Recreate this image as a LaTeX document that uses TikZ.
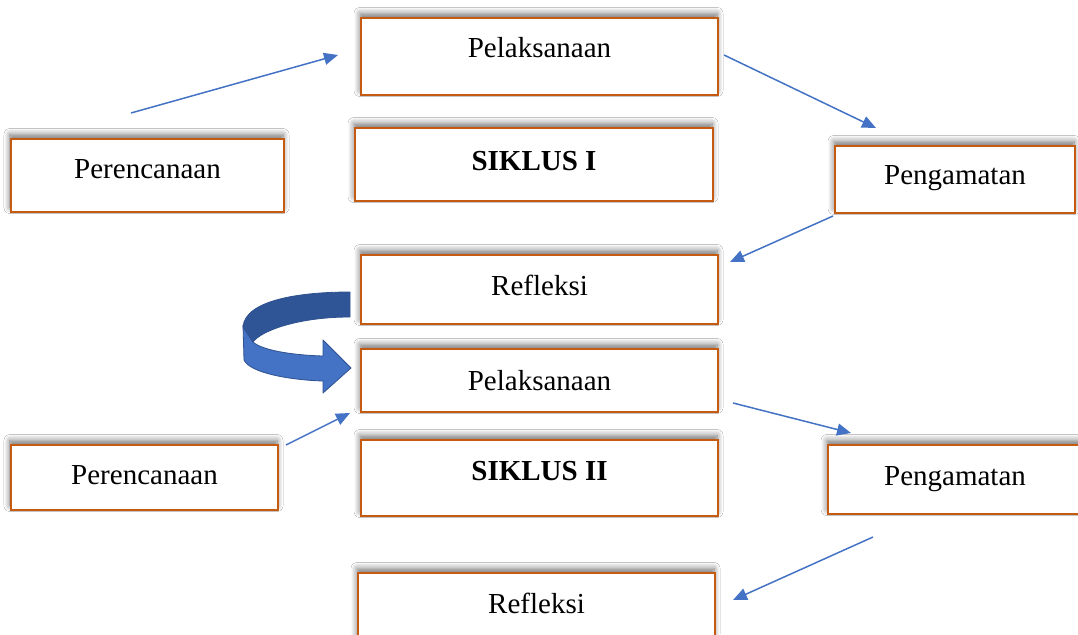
\documentclass[tikz,border=0pt]{standalone}
\usepackage{fontspec}
\setmainfont{Liberation Serif}
\usetikzlibrary{arrows.meta,shadows.blur}
\definecolor{boxorange}{HTML}{C55A11}
\definecolor{arrblue}{HTML}{4472C4}
\definecolor{darkblue}{HTML}{2F5597}
\definecolor{edgeblue}{HTML}{2F528F}
\tikzset{
  stagebox/.style={draw=boxorange, line width=2.6pt, fill=white, rectangle, inner sep=0pt,
    blur shadow={shadow xshift=-1pt, shadow yshift=4.5pt, shadow blur radius=6pt, shadow blur steps=8, shadow opacity=55}},
  lbl/.style={anchor=base, font=\fontsize{29}{33}\selectfont, inner sep=0pt},
  blbl/.style={lbl, font=\fontsize{29}{33}\selectfont\bfseries},
  flow/.style={draw=arrblue, line width=1.5pt, -{Triangle[length=14pt,width=12pt]}}
}
\begin{document}
\begin{tikzpicture}[x=1pt,y=-1pt]
\useasboundingbox (0,0) rectangle (1078,634);
\fill[white] (0,0) rectangle (1078,634);
% boxes
\node[stagebox, minimum width=357pt, minimum height=77pt] (p1) at (539.5,56.5) {};
\node[stagebox, minimum width=358pt, minimum height=73pt] (s1) at (534,164.5) {};
\node[stagebox, minimum width=273pt, minimum height=73pt] (r1) at (147.5,175.5) {};
\node[stagebox, minimum width=240pt, minimum height=67pt] (g1) at (955,179.5) {};
\node[stagebox, minimum width=357pt, minimum height=69pt] (f1) at (539.5,289.5) {};
\node[stagebox, minimum width=357pt, minimum height=63pt] (p2) at (539.5,380.5) {};
\node[stagebox, minimum width=357pt, minimum height=76pt] (s2) at (539.5,478) {};
\node[stagebox, minimum width=267pt, minimum height=65pt] (r2) at (144.5,477.5) {};
\node[stagebox, minimum width=262pt, minimum height=69pt] (g2) at (959,479.5) {};
\node[stagebox, minimum width=357pt, minimum height=77pt] (f2) at (536.5,611.5) {};
% labels
\node[lbl] (p1t) at (539.5,57) {Pelaksanaan};
\node[blbl] (s1t) at (534,170) {SIKLUS I};
\node[lbl] (r1t) at (147.5,178) {Perencanaan};
\node[lbl] (g1t) at (955,184) {Pengamatan};
\node[lbl] (f1t) at (539.5,295) {Refleksi};
\node[lbl] (p2t) at (539.5,390) {Pelaksanaan};
\node[blbl] (s2t) at (539.5,480) {SIKLUS II};
\node[lbl] (r2t) at (144.5,484) {Perencanaan};
\node[lbl] (g2t) at (955,485) {Pengamatan};
\node[lbl] (f2t) at (536.5,613) {Refleksi};
% connector end points
\coordinate (a1s) at (131,113);
\coordinate (a1e) at (338,55);
\coordinate (a2s) at (724,55);
\coordinate (a2e) at (876,128);
\coordinate (a3s) at (833,216);
\coordinate (a3e) at (730,262);
\coordinate (a4s) at (286,445);
\coordinate (a4e) at (350,413);
\coordinate (a5s) at (733,403);
\coordinate (a5e) at (851,433);
\coordinate (a6s) at (873,537);
\coordinate (a6e) at (733,600);
\draw[flow] (a1s) -- (a1e);
\draw[flow] (a2s) -- (a2e);
\draw[flow] (a3s) -- (a3e);
\draw[flow] (a4s) -- (a4e);
\draw[flow] (a5s) -- (a5e);
\draw[flow] (a6s) -- (a6e);
% curved ribbon arrow
\draw[fill=arrblue, draw=edgeblue, line width=0.8pt, line join=round]
  (243,325) -- (244,360) .. controls (250,373) and (290,380) .. (323,381)
  -- (323,393) -- (351,368) -- (323,340) -- (323,356)
  .. controls (290,355) and (262,350) .. (253,342) -- cycle;
\draw[fill=darkblue, draw=edgeblue, line width=0.8pt, line join=round]
  (350,292) .. controls (300,292) and (245,300) .. (243,327)
  -- (253,342) .. controls (262,330) and (300,317) .. (350,317) -- cycle;
\end{tikzpicture}
\end{document}
